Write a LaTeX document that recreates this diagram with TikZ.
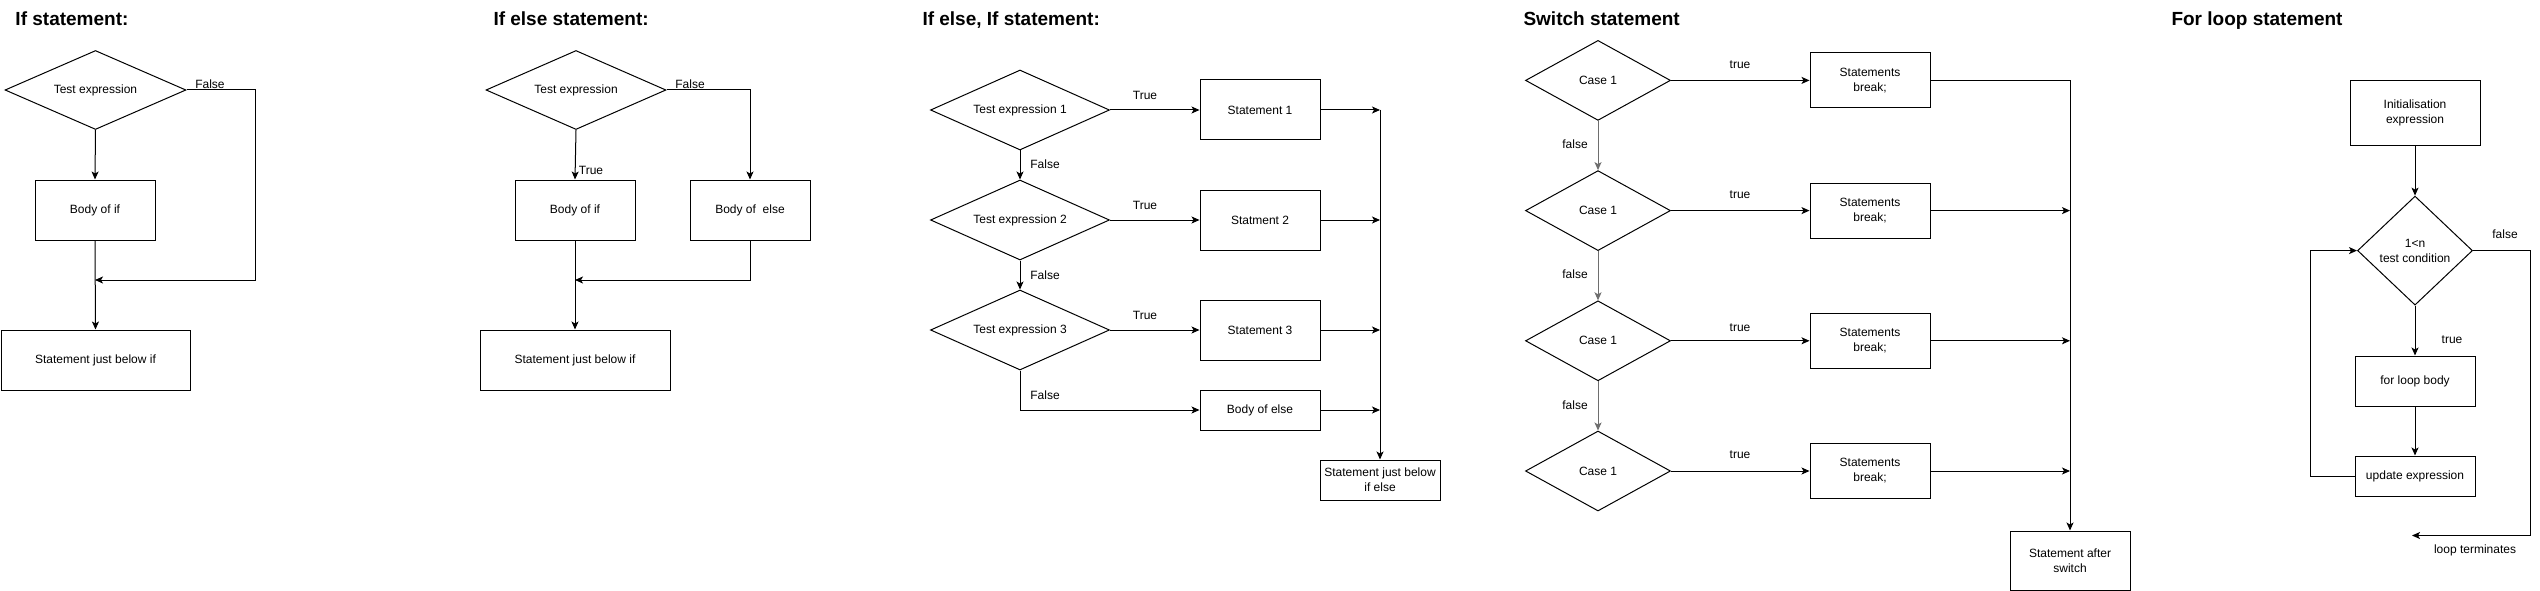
\documentclass[tikz,border=0pt]{standalone}
\usepackage{fontspec}
\setmainfont{Liberation Sans}
\usetikzlibrary{shapes.geometric,arrows.meta}
\definecolor{sgray}{HTML}{6E6E6E}
\tikzset{
  base/.style={font=\fontsize{12}{15}\selectfont},
  box/.style={base, draw, rectangle, inner sep=0pt, align=center},
  dia/.style={base, draw, diamond, inner sep=0pt, align=center},
  arr/.style={-{Stealth[length=8pt,width=7pt,inset=2pt]}},
  lbl/.style={base, inner sep=0pt},
  ttl/.style={font=\fontsize{19}{22}\selectfont\bfseries, anchor=base west, inner sep=0pt},
}
\begin{document}
\begin{tikzpicture}[x=1pt,y=-1pt,line width=1pt]
\useasboundingbox[fill=white] (0,0) rectangle (2540,591);

% ---------------- If statement
\node[ttl] (t1) at (15,26) {If statement:};
\node[dia, minimum width=181pt, minimum height=79pt, aspect=2.3] (a1) at (95.5,90) {Test expression};
\node[box, minimum width=120pt, minimum height=60pt] (a2) at (95,210) {Body of if};
\node[box, minimum width=189pt, minimum height=60pt] (a3) at (95.5,360) {Statement just below if};
\coordinate (af) at (255,280);
\coordinate (am) at (95,280);
\draw[arr] (a1.south) -- (a2.north);
\draw[arr] (a2.south) -- (a3.north);
\draw[arr] (a1.east) -| (af) -- (am);
\node[lbl] (al) at (210,84) {False};

% ---------------- If else statement
\node[ttl] (t2) at (493,26) {If else statement:};
\node[dia, minimum width=180pt, minimum height=79pt, aspect=2.3] (b1) at (576,90) {Test expression};
\node[box, minimum width=120pt, minimum height=60pt] (b2) at (575,210) {Body of if};
\node[box, minimum width=120pt, minimum height=60pt] (b3) at (750,210) {Body of~ else};
\node[box, minimum width=190pt, minimum height=60pt] (b4) at (575,360) {Statement just below if};
\coordinate (bm) at (575,280);
\draw[arr] (b1.south) -- (b2.north);
\draw[arr] (b1.east) -| (b3.north);
\draw[arr] (b3.south) |- (bm);
\draw[arr] (b2.south) -- (b4.north);
\node[lbl] (bl1) at (591,170) {True};
\node[lbl] (bl2) at (690,84) {False};

% ---------------- If else, If statement
\node[ttl] (t3) at (922,26) {If else, If statement:};
\node[dia, minimum width=179pt, minimum height=80pt, aspect=2.24] (e1) at (1020,110) {Test expression 1};
\node[dia, minimum width=179pt, minimum height=80pt, aspect=2.24] (e2) at (1020,220) {Test expression 2};
\node[dia, minimum width=179pt, minimum height=80pt, aspect=2.24] (e3) at (1020,330) {Test expression 3};
\node[box, minimum width=120pt, minimum height=60pt] (s1) at (1260,110) {Statement 1};
\node[box, minimum width=120pt, minimum height=60pt] (s2) at (1260,220) {Statment 2};
\node[box, minimum width=120pt, minimum height=60pt] (s3) at (1260,330) {Statement 3};
\node[box, minimum width=120pt, minimum height=40pt] (s4) at (1260,410) {Body of else};
\node[box, minimum width=120pt, minimum height=40pt] (s5) at (1380,480) {Statement just below\\if else};
\coordinate (r1) at (1380,110);
\coordinate (r2) at (1380,220);
\coordinate (r3) at (1380,330);
\coordinate (r4) at (1380,410);
\draw[arr] (e1.east) -- (s1.west);
\draw[arr] (e2.east) -- (s2.west);
\draw[arr] (e3.east) -- (s3.west);
\draw[arr] (e1.south) -- (e2.north);
\draw[arr] (e2.south) -- (e3.north);
\draw[arr] (e3.south) |- (s4.west);
\draw[arr] (s1.east) -- (r1);
\draw[arr] (s2.east) -- (r2);
\draw[arr] (s3.east) -- (r3);
\draw[arr] (s4.east) -- (r4);
\draw[arr] (r1) -- (s5.north);
\node[lbl] (el1) at (1145,95) {True};
\node[lbl] (el2) at (1145,205) {True};
\node[lbl] (el3) at (1145,315) {True};
\node[lbl] (el4) at (1045,164) {False};
\node[lbl] (el5) at (1045,275) {False};
\node[lbl] (el6) at (1045,395) {False};

% ---------------- Switch statement
\node[ttl] (t4) at (1523,26) {Switch statement};
\node[dia, minimum width=145pt, minimum height=80pt, aspect=1.8] (c1) at (1598,80.4) {Case 1};
\node[dia, minimum width=145pt, minimum height=80pt, aspect=1.8] (c2) at (1598,210.6) {Case 1};
\node[dia, minimum width=145pt, minimum height=80pt, aspect=1.8] (c3) at (1598,340.8) {Case 1};
\node[dia, minimum width=145pt, minimum height=80pt, aspect=1.8] (c4) at (1598,471) {Case 1};
\node[box, minimum width=120pt, minimum height=55pt] (k1) at (1870,80.4) {Statements\\break;};
\node[box, minimum width=120pt, minimum height=55pt] (k2) at (1870,210.6) {Statements\\break;};
\node[box, minimum width=120pt, minimum height=55pt] (k3) at (1870,340.8) {Statements\\break;};
\node[box, minimum width=120pt, minimum height=55pt] (k4) at (1870,471) {Statements\\break;};
\node[box, minimum width=120pt, minimum height=59pt] (sw) at (2070,560.5) {Statement after\\switch};
\coordinate (w2) at (2070,210.6);
\coordinate (w3) at (2070,340.8);
\coordinate (w4) at (2070,471);
\draw[arr] (c1.east) -- (k1.west);
\draw[arr] (c2.east) -- (k2.west);
\draw[arr] (c3.east) -- (k3.west);
\draw[arr] (c4.east) -- (k4.west);
\draw[arr, draw=sgray, fill=sgray] (c1.south) -- (c2.north);
\draw[arr, draw=sgray, fill=sgray] (c2.south) -- (c3.north);
\draw[arr, draw=sgray, fill=sgray] (c3.south) -- (c4.north);
\draw[arr] (k1.east) -| (sw.north);
\draw[arr] (k2.east) -- (w2);
\draw[arr] (k3.east) -- (w3);
\draw[arr] (k4.east) -- (w4);
\node[lbl] (cl1) at (1740,64.5) {true};
\node[lbl] (cl2) at (1740,194.7) {true};
\node[lbl] (cl3) at (1740,328) {true};
\node[lbl] (cl4) at (1740,455) {true};
\node[lbl] (cf1) at (1575,144.5) {false};
\node[lbl] (cf2) at (1575,274.7) {false};
\node[lbl] (cf3) at (1575,405) {false};

% ---------------- For loop statement
\node[ttl] (t5) at (2171,26) {For loop statement};
\node[box, minimum width=130pt, minimum height=65pt] (f1) at (2415,113) {Initialisation\\expression};
\node[dia, minimum width=115pt, minimum height=109pt, aspect=1.05] (f2) at (2415,250.6) {1<n\\test condition};
\node[box, minimum width=120pt, minimum height=50pt] (f3) at (2415,381) {for loop body};
\node[box, minimum width=120pt, minimum height=40pt] (f4) at (2415,476) {update expression};
\coordinate (lp) at (2310,250.6);
\coordinate (fr) at (2530,535.5);
\coordinate (ft) at (2412,535.5);
\draw[arr] (f1.south) -- (f2.north);
\draw[arr] (f2.south) -- (f3.north);
\draw[arr] (f3.south) -- (f4.north);
\draw[arr] (f4.west) -| (lp) -- (f2.west);
\draw[arr] (f2.east) -| (fr) -- (ft);
\node[lbl] (fl1) at (2452,340) {true};
\node[lbl] (fl2) at (2505,234.7) {false};
\node[lbl] (fl3) at (2475,550) {loop terminates};
\end{tikzpicture}
\end{document}
